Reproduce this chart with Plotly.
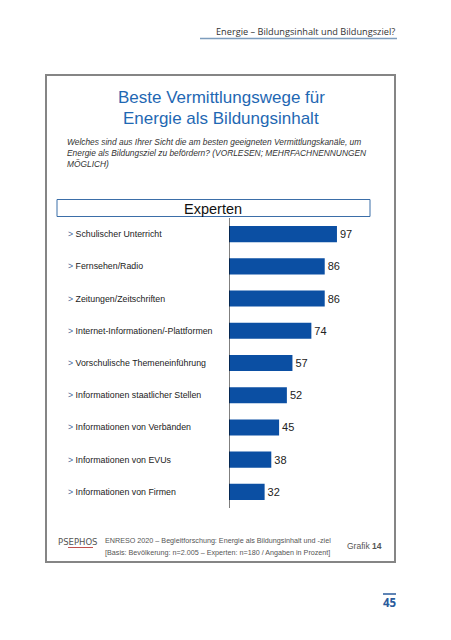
import plotly.graph_objects as go

# ---- data ----
categories = [
    "Schulischer Unterricht",
    "Fernsehen/Radio",
    "Zeitungen/Zeitschriften",
    "Internet-Informationen/-Plattformen",
    "Vorschulische Themeneinführung",
    "Informationen staatlicher Stellen",
    "Informationen von Verbänden",
    "Informationen von EVUs",
    "Informationen von Firmen",
]
experten = [97, 86, 86, 74, 57, 52, 45, 38, 32]

header_text = "Energie – Bildungsinhalt und Bildungsziel?"
title_lines = ["Beste Vermittlungswege für", "Energie als Bildungsinhalt"]
question_text = ("Welches sind aus Ihrer Sicht die am besten geeigneten Vermittlungskanäle, um<br>"
                 "Energie als Bildungsziel zu befördern? (VORLESEN; MEHRFACHNENNUNGEN<br>"
                 "MÖGLICH)")
group_label = "Experten"
footer_lines = ["ENRESO 2020 – Begleitforschung: Energie als Bildungsinhalt und -ziel",
                "[Basis: Bevölkerung: n=2.005 – Experten: n=180 / Angaben in Prozent]"]
page_number = "45"

# page body has an 8px default margin; figure is sized/offset to compensate
OFF = 8
W, H = 451 - OFF, 640 - OFF
SANS = "Liberation Sans, Arial"
BLUE_BAR = "#0b4fa3"
TITLE_BLUE = "#1f68b3"


def px(x):
    return (x - OFF) / W


def py(y):
    return 1 - (y - OFF) / H


fig = go.Figure()
fig.add_trace(go.Bar(
    x=experten, y=categories, orientation="h",
    marker=dict(color=BLUE_BAR, line=dict(width=0)),
    width=0.5,
    text=[str(v) for v in experten], textposition="outside",
    textfont=dict(family=SANS, size=11, color="#222"),
    cliponaxis=False, hoverinfo="skip",
))

x0_px, unit = 229, 1.113
fig.update_xaxes(domain=[px(x0_px), px(x0_px + 100 * unit)], range=[0, 100],
                 visible=False, fixedrange=True)
fig.update_yaxes(domain=[py(508), py(218)], categoryorder="array",
                 categoryarray=categories, autorange="reversed",
                 visible=False, fixedrange=True)

shapes = []
ann = []

# vertical axis line
shapes.append(dict(type="line", xref="x", yref="y domain", x0=0, x1=0, y0=0, y1=1,
                   line=dict(color="#000", width=1)))

# category labels
for c in categories:
    ann.append(dict(xref="paper", yref="y", x=px(66), y=c, xanchor="left", yanchor="middle",
                    text="<span style='color:#4a6a9a'>&gt;</span> " + c, showarrow=False,
                    font=dict(family=SANS, size=8.8, color="#222")))

# outer box
shapes.append(dict(type="rect", xref="paper", yref="paper", x0=px(46), x1=px(395),
                   y0=py(562), y1=py(75), line=dict(color="#858585", width=2),
                   fillcolor="rgba(0,0,0,0)", layer="below"))

# Experten box
shapes.append(dict(type="rect", xref="paper", yref="paper", x0=px(57), x1=px(370),
                   y0=py(216.5), y1=py(199.5), line=dict(color="#3b6ea8", width=1),
                   fillcolor="white", layer="below"))
ann.append(dict(xref="paper", yref="paper", x=px(213), y=py(208.5), text=group_label,
                showarrow=False, xanchor="center", yanchor="middle",
                font=dict(family=SANS, size=14.5, color="#111")))

# title
for i, t in enumerate(title_lines):
    ann.append(dict(xref="paper", yref="paper", x=px(221), y=py(98 + 20 * i), text=t,
                    showarrow=False, xanchor="center", yanchor="middle",
                    font=dict(family=SANS, size=17, color=TITLE_BLUE)))

# question
ann.append(dict(xref="paper", yref="paper", x=px(65), y=py(135), text="<i>" + question_text + "</i>",
                showarrow=False, xanchor="left", yanchor="top", align="left",
                font=dict(family=SANS, size=8.4, color="#333")))

# header
ann.append(dict(xref="paper", yref="paper", x=px(397), y=py(32), text=header_text,
                showarrow=False, xanchor="right", yanchor="middle",
                font=dict(family="Open Sans", size=9.2, color="#333")))
shapes.append(dict(type="line", xref="paper", yref="paper", x0=px(200), x1=px(397),
                   y0=py(38.5), y1=py(38.5), line=dict(color="#7d9dbd", width=1.5)))

# footer
ann.append(dict(xref="paper", yref="paper", x=px(78), y=py(542), text="PSEPHOS",
                showarrow=False, xanchor="center", yanchor="middle",
                font=dict(family="DejaVu Sans", size=8.5, color="#555")))
shapes.append(dict(type="line", xref="paper", yref="paper", x0=px(68), x1=px(93),
                   y0=py(547.5), y1=py(547.5), line=dict(color="#c0504d", width=1)))
for i, t in enumerate(footer_lines):
    ann.append(dict(xref="paper", yref="paper", x=px(103), y=py(540 + 12 * i), text=t,
                    showarrow=False, xanchor="left", yanchor="middle",
                    font=dict(family=SANS, size=7.2, color="#555")))
ann.append(dict(xref="paper", yref="paper", x=px(384), y=py(546), text="Grafik <b>14</b>",
                showarrow=False, xanchor="right", yanchor="middle",
                font=dict(family=SANS, size=8.5, color="#555")))

# page number
shapes.append(dict(type="line", xref="paper", yref="paper", x0=px(383), x1=px(396),
                   y0=py(594), y1=py(594), line=dict(color="#2a5b9c", width=1.5)))
ann.append(dict(xref="paper", yref="paper", x=px(389.5), y=py(602), text="<b>" + page_number + "</b>",
                showarrow=False, xanchor="center", yanchor="middle",
                font=dict(family="Open Sans", size=11.5, color="#2a5b9c")))

fig.update_layout(
    width=W, height=H, margin=dict(l=0, r=0, t=0, b=0),
    paper_bgcolor="white", plot_bgcolor="rgba(0,0,0,0)",
    showlegend=False, shapes=shapes, annotations=ann, bargap=0.5,
)

fig.write_html("out.html", config={"displayModeBar": False})
